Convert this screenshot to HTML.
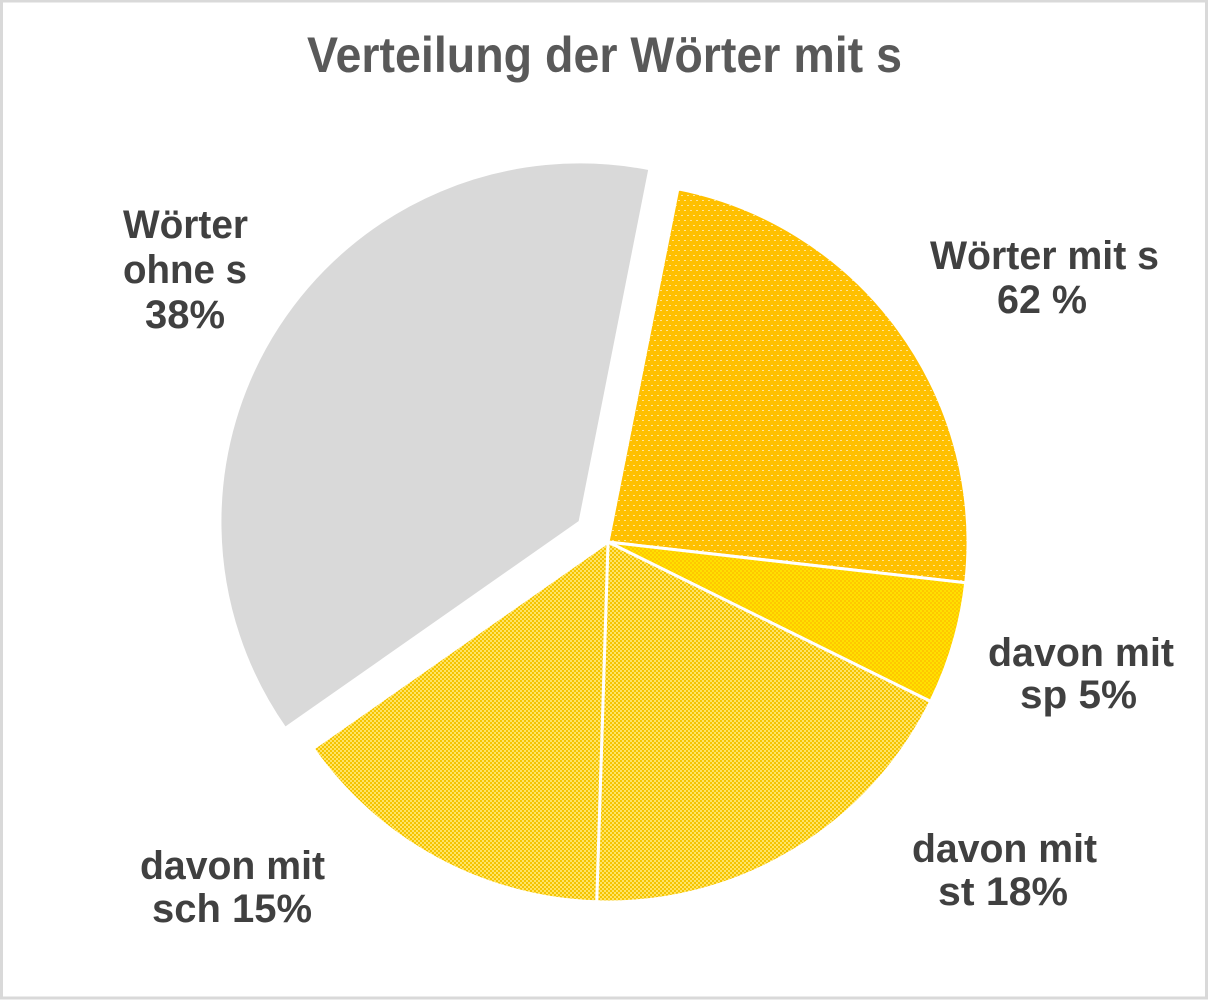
<!DOCTYPE html>
<html>
<head>
<meta charset="utf-8">
<style>
  html, body { margin:0; padding:0; background:#ffffff; }
  body { width:1208px; height:1000px; overflow:hidden; }
  svg { display:block; }
  text { font-family:"Liberation Sans", Arial, sans-serif; font-weight:bold; }
</style>
</head>
<body>
<svg width="1208" height="1000" viewBox="0 0 1208 1000" xmlns="http://www.w3.org/2000/svg">
  <defs>
    <pattern id="pOrange" width="6" height="10" patternUnits="userSpaceOnUse">
      <rect width="6" height="10" fill="#FFC000"/>
      <rect x="0" y="0" width="2" height="1" fill="#FFE594"/>
      <rect x="3" y="5" width="2" height="1" fill="#FFE594"/>
    </pattern>
    <pattern id="pSp" width="4" height="4" patternUnits="userSpaceOnUse">
      <rect width="4" height="4" fill="#FFE000"/>
      <rect x="0" y="0" width="2" height="2" fill="#FFC800"/>
      <rect x="2" y="2" width="2" height="2" fill="#FFC800"/>
    </pattern>
    <pattern id="pSt" width="4" height="4" patternUnits="userSpaceOnUse">
      <rect width="4" height="4" fill="#FFE466"/>
      <rect x="0" y="0" width="2" height="2" fill="#F5C400"/>
      <rect x="2" y="2" width="2" height="2" fill="#F5C400"/>
    </pattern>
  </defs>

  <!-- border -->
  <rect x="1.5" y="1" width="1205" height="997" fill="#ffffff" stroke="#D9D9D9" stroke-width="3"/>

  <!-- title -->
  <text x="307" y="72" font-size="50" fill="#595959" textLength="595" lengthAdjust="spacingAndGlyphs">Verteilung der Wörter mit s</text>

  <!-- pie slices -->
  <g stroke="#ffffff" stroke-width="3" stroke-linejoin="round">
    <path d="M608,542 L677.9,188.8 A360,360 0 0 1 965.7,582.8 Z" fill="url(#pOrange)"/>
    <path d="M608,542 L965.7,582.8 A360,360 0 0 1 930.7,701.5 Z" fill="url(#pSp)"/>
    <path d="M608,542 L930.7,701.5 A360,360 0 0 1 596.7,901.8 Z" fill="url(#pSt)"/>
    <path d="M608,542 L596.7,901.8 A360,360 0 0 1 313.1,748.5 Z" fill="url(#pSt)"/>
    <path d="M580,522 L285.1,728.5 A360,360 0 0 1 649.9,168.8 Z" fill="#D9D9D9"/>
  </g>

  <!-- labels -->
  <g font-size="40" fill="#404040">
    <text x="123" y="238" textLength="125" lengthAdjust="spacingAndGlyphs">Wörter</text>
    <text x="123" y="283" textLength="124" lengthAdjust="spacingAndGlyphs">ohne s</text>
    <text x="145" y="328" textLength="80" lengthAdjust="spacingAndGlyphs">38%</text>

    <text x="930" y="269" textLength="229" lengthAdjust="spacingAndGlyphs">Wörter mit s</text>
    <text x="997" y="313" textLength="90" lengthAdjust="spacingAndGlyphs">62 %</text>

    <text x="988" y="666" textLength="186" lengthAdjust="spacingAndGlyphs">davon mit</text>
    <text x="1020" y="708" textLength="117" lengthAdjust="spacingAndGlyphs">sp 5%</text>

    <text x="912" y="862" textLength="185" lengthAdjust="spacingAndGlyphs">davon mit</text>
    <text x="938" y="905" textLength="130" lengthAdjust="spacingAndGlyphs">st 18%</text>

    <text x="140" y="879" textLength="185" lengthAdjust="spacingAndGlyphs">davon mit</text>
    <text x="152" y="922" textLength="160" lengthAdjust="spacingAndGlyphs">sch 15%</text>
  </g>
</svg>
</body>
</html>
